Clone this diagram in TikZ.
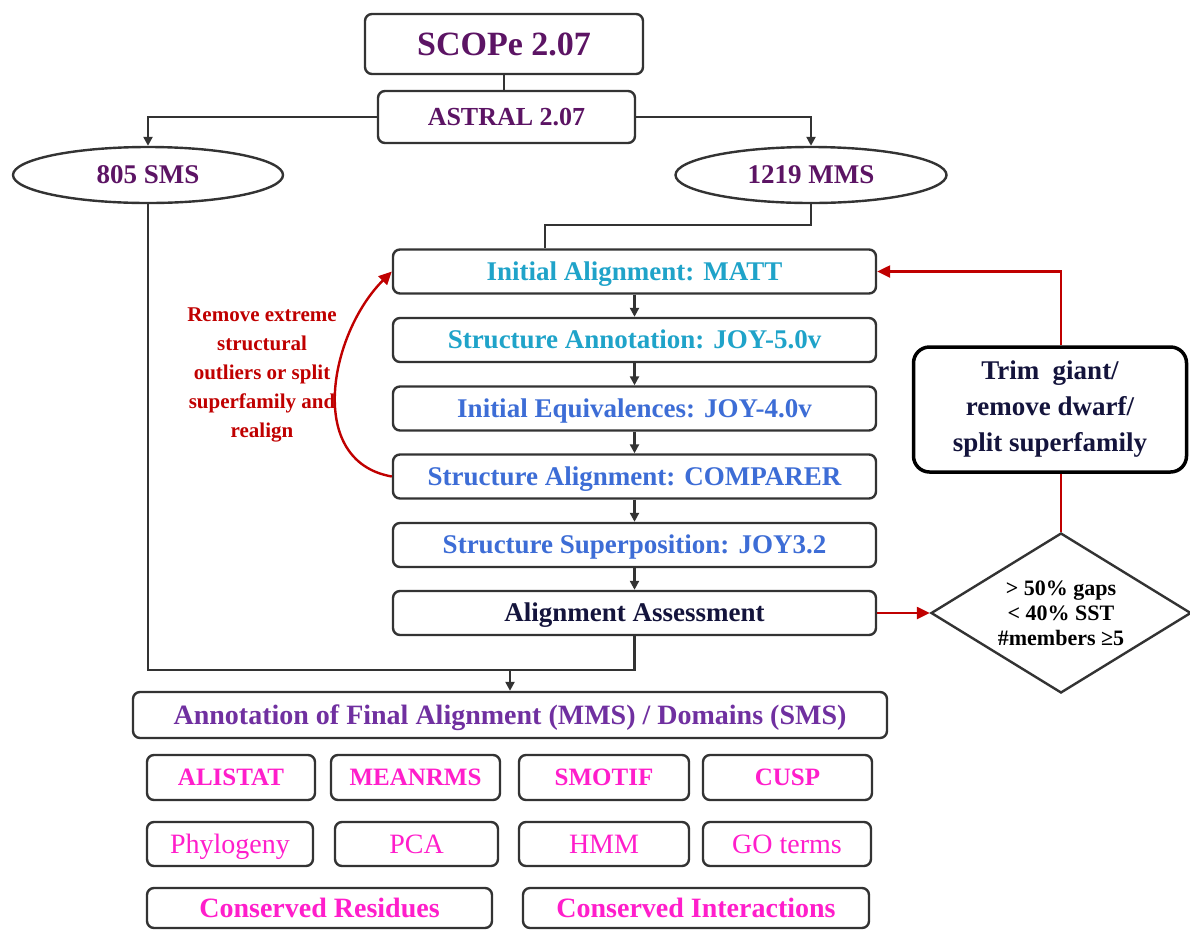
\documentclass[tikz,border=0pt]{standalone}
\usepackage{fontspec}
\setmainfont{Liberation Serif}
\usetikzlibrary{arrows.meta,shapes.geometric}
\definecolor{edge}{HTML}{333333}
\definecolor{purp}{HTML}{5C1464}
\definecolor{tealc}{HTML}{1FA3C9}
\definecolor{bluec}{HTML}{3D6DD6}
\definecolor{annp}{HTML}{7030A0}
\definecolor{redline}{HTML}{C00000}
\definecolor{pinkc}{HTML}{FF1ECB}
\definecolor{navyc}{HTML}{14143C}
\newcommand\fsz[2]{\fontsize{#1}{#2}\selectfont}
\begin{document}
\begin{tikzpicture}[x=1pt,y=-1pt,
  box/.style={draw=edge, line width=2.4pt, rounded corners=7pt, fill=white, inner sep=0pt, align=center, text depth=0pt},
  ell/.style={draw=edge, line width=2.4pt, ellipse, inner sep=0pt, font=\fsz{27}{32}\bfseries, text=purp, text height=17.9pt, text depth=0pt},
  proc/.style={box, minimum width=483pt, minimum height=44pt, font=\fsz{27}{32}\bfseries, text height=17.9pt},
  pkb/.style={box, text=pinkc, font=\fsz{25}{30}\bfseries, text height=16.5pt},
  pkr/.style={box, text=pinkc, font=\fsz{28}{32}, text height=18.5pt},
  pkc/.style={box, text=pinkc, font=\fsz{28}{32}\bfseries, text height=18.5pt},
  conn/.style={draw=edge, line width=2.4pt},
  arr/.style={conn, -{Triangle[length=9pt,width=9pt]}},
  redc/.style={draw=redline, line width=2.4pt},
  redarr/.style={redc, -{Triangle[length=13pt,width=12pt]}}]
\useasboundingbox (0,0) rectangle (1190,930);
\fill[white] (0,0) rectangle (1190,930);

% top
\node[box, minimum width=278pt, minimum height=60pt, font=\fsz{34}{40}\bfseries, text=purp, text height=22.5pt] (scope) at (504,44) {SCOPe 2.07};
\node[box, minimum width=257pt, minimum height=52pt, font=\fsz{26}{30}\bfseries, text=purp, text height=17.2pt] (astral) at (506.5,117) {ASTRAL 2.07};
\node[ell, minimum width=270pt, minimum height=56pt] (sms) at (148,175) {805 SMS};
\node[ell, minimum width=271pt, minimum height=56pt] (mms) at (811,175) {1219 MMS};

% process column
\node[proc, text=tealc] (matt) at (634.5,271.5) {Initial Alignment: MATT};
\node[proc, text=tealc] (joy5) at (634.5,340) {Structure Annotation: JOY-5.0v};
\node[proc, text=bluec] (joy4) at (634.5,408.5) {Initial Equivalences: JOY-4.0v};
\node[proc, text=bluec] (comp) at (634.5,476.5) {Structure Alignment: COMPARER};
\node[proc, text=bluec] (joy32) at (634.5,545) {Structure Superposition: JOY3.2};
\node[proc, text=navyc] (assess) at (634.5,613) {Alignment Assessment};

% right side
\node[draw=black, line width=3.5pt, rounded corners=16pt, minimum width=273pt, minimum height=125pt, align=center, font=\fsz{27}{36}\bfseries, text=navyc] (trim) at (1050,409.5) {Trim\ \ giant/\\remove dwarf/\\split superfamily};
\node[diamond, draw=edge, line width=2.4pt, minimum width=260pt, minimum height=160pt, inner sep=0pt] (crit) at (1061,613) {};
\node[align=center, font=\fsz{22}{25}\bfseries] (critt) at (crit) {> 50\% gaps\\< 40\% SST\\\#members ≥5};

% red note
\node[align=center, text=redline, font=\fsz{21}{29}\bfseries] (note) at (262,375) {Remove extreme\\structural\\outliers or split\\superfamily and\\realign};

% annotation
\node[box, minimum width=754pt, minimum height=46pt, font=\fsz{28}{32}\bfseries, text=annp, text height=18.5pt] (annot) at (510,715) {Annotation of Final Alignment (MMS) / Domains (SMS)};

\node[pkb, minimum width=168pt, minimum height=45pt] (alistat) at (231,777.5) {ALISTAT};
\node[pkb, minimum width=169pt, minimum height=45pt] (meanrms) at (415.5,777.5) {MEANRMS};
\node[pkb, minimum width=170pt, minimum height=45pt] (smotif) at (604,777.5) {SMOTIF};
\node[pkb, minimum width=169pt, minimum height=45pt] (cusp) at (787.5,777.5) {CUSP};

\node[pkr, minimum width=166pt, minimum height=44pt] (phylo) at (230,844) {Phylogeny};
\node[pkr, minimum width=163pt, minimum height=44pt] (pca) at (416.5,844) {PCA};
\node[pkr, minimum width=170pt, minimum height=44pt] (hmm) at (604,844) {HMM};
\node[pkr, minimum width=168pt, minimum height=44pt] (goterms) at (787,844) {GO terms};

\node[pkc, minimum width=345pt, minimum height=40pt] (resid) at (319.5,908) {Conserved Residues};
\node[pkc, minimum width=346pt, minimum height=40pt] (inter) at (696,908) {Conserved Interactions};

% connectors
\draw[conn] (scope.south) -- (scope.south |- astral.north);
\draw[arr] (astral.west) -| (sms.north);
\draw[arr] (astral.east) -| (mms.north);
\coordinate (j1) at (545,225);
\draw[conn] (mms.south) |- (j1) -- (j1 |- matt.north);
\foreach \a/\b in {matt/joy5, joy5/joy4, joy4/comp, comp/joy32, joy32/assess}
  \draw[arr] (\a.south) -- (\b.north);
\coordinate (j2) at (510,670);
\draw[conn] (sms.south) |- (j2) -| (assess.south);
\draw[arr] (j2) -- (annot.north);

\draw[redarr] (assess.east) -- (crit.west);
\draw[redc] (crit.north) -- (crit.north |- trim.south);
\draw[redarr] (crit.north |- trim.north) |- (matt.east);
\draw[redarr] (comp.west) to[out=170, in=225, looseness=1.1] (matt.west);
\end{tikzpicture}
\end{document}
